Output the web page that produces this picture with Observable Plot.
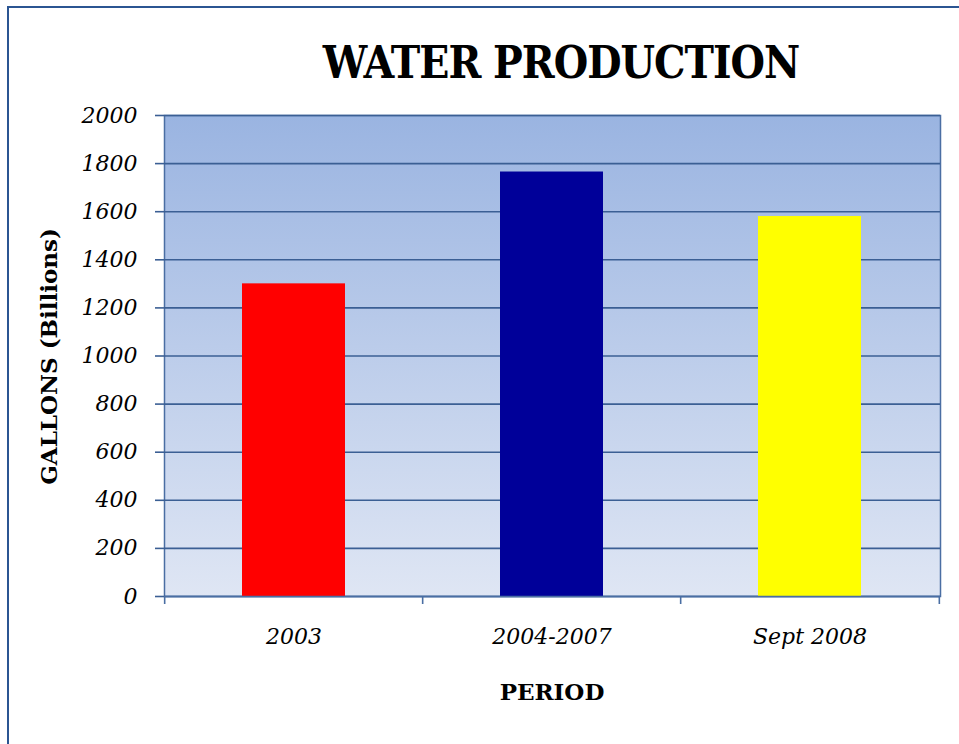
<!DOCTYPE html>
<html><head><meta charset="utf-8">
<script src="https://cdn.jsdelivr.net/npm/d3@7"></script>
<script src="https://cdn.jsdelivr.net/npm/@observablehq/plot@0.6"></script>
<style>
body{margin:0;background:#fff;}
#wrap{position:relative;width:959px;height:744px;overflow:hidden;font-family:"DejaVu Serif",serif;color:#000;}
#border{position:absolute;left:7px;top:6px;width:1000px;height:800px;border-top:2px solid #2b5592;border-left:2px solid #2b5592;}
#chart{position:absolute;left:0;top:0;}
.t{position:absolute;line-height:1;white-space:nowrap;text-align:center;}
#title{left:261px;width:600px;top:41px;font-family:"DejaVu Serif Condensed","DejaVu Serif",serif;font-weight:bold;font-size:44px;letter-spacing:-1px;}
#ylab{left:-152px;width:400px;top:345px;font-weight:bold;font-size:23px;transform:rotate(-90deg);}
#xlab{left:352px;width:400px;top:680px;font-weight:bold;font-size:23px;}
</style></head>
<body>
<div id="wrap">
  <div id="border"></div>
  <div id="chart"></div>
  <div class="t" id="title">WATER PRODUCTION</div>
  <div class="t" id="ylab">GALLONS (Billions)</div>
  <div class="t" id="xlab">PERIOD</div>
</div>
<script>
const categories = ["2003", "2004-2007", "Sept 2008"];
const values = [1300, 1765, 1580];
const colors = ["#ff0000", "#000099", "#ffff00"];
const yTicks = [0, 200, 400, 600, 800, 1000, 1200, 1400, 1600, 1800, 2000];

const data = categories.map((c, i) => ({period: c, value: values[i], color: colors[i]}));

const W = 959, H = 744, mL = 164, mR = 19, mT = 115, mB = 148;
const padInner = 0.6, padOuter = 0.3;
const step = (W - mL - mR) / categories.length;

const lineColor = "#3b5f94";
const axisColor = "#4a6ea3";

const plot = Plot.plot({
  width: W, height: H,
  marginLeft: mL, marginRight: mR, marginTop: mT, marginBottom: mB,
  style: {fontFamily: "'DejaVu Serif', serif", background: "transparent", overflow: "visible"},
  x: {domain: categories, paddingInner: padInner, paddingOuter: padOuter, label: null},
  y: {domain: [0, 2000], label: null},
  marks: [
    Plot.frame({fill: "url(#bggrad)", stroke: axisColor, strokeWidth: 1.5}),
    Plot.gridY(yTicks, {stroke: lineColor, strokeOpacity: 1, strokeWidth: 1.6}),
    Plot.barY(data, {x: "period", y: "value", fill: "color"}),
    Plot.ruleY([0], {stroke: axisColor, strokeWidth: 1.6}),
    Plot.axisY(yTicks, {tickSize: 9, tickPadding: 18, stroke: lineColor, strokeWidth: 1.6,
      fontSize: 22, fontStyle: "italic", fill: "#000", label: null, tickFormat: d => String(d)}),
    Plot.axisX({tickSize: 0, tickPadding: 32, fontSize: 22, fontStyle: "italic", fill: "#000", label: null}),
    // category boundary ticks below the axis (left edge of each category slot)
    Plot.ruleX(categories, {x: d => d, dx: -step / 2, y1: 0, y2: 0, insetBottom: -8, stroke: axisColor, strokeWidth: 1.6}),
    // closing tick at the right end
    Plot.ruleX(categories.slice(-1), {x: d => d, dx: step / 2, y1: 0, y2: 0, insetBottom: -8, stroke: axisColor, strokeWidth: 1.6})
  ]
});

const svg = d3.select(plot);
const defs = svg.insert("defs", ":first-child");
const g = defs.append("linearGradient").attr("id", "bggrad").attr("x1", 0).attr("y1", 0).attr("x2", 0).attr("y2", 1);
g.append("stop").attr("offset", "0%").attr("stop-color", "#9ab4e1");
g.append("stop").attr("offset", "100%").attr("stop-color", "#dfe6f4");

document.getElementById("chart").appendChild(plot);
</script>
</body></html>
